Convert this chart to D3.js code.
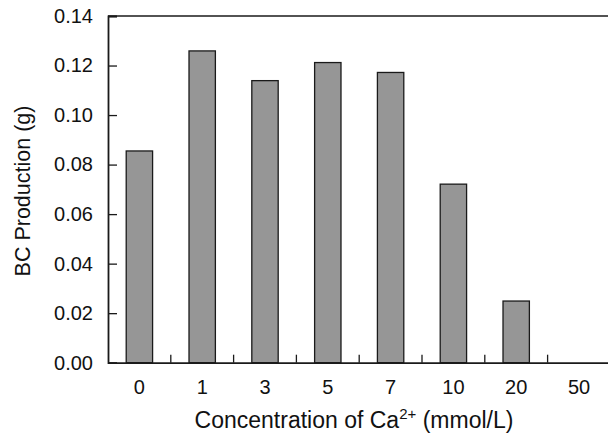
<!DOCTYPE html>
<html>
<head>
<meta charset="utf-8">
<script src="https://cdn.jsdelivr.net/npm/d3@7"></script>
<style>
  body { margin: 0; background: #fff; }
  svg { display: block; font-family: "Liberation Sans", Arial, sans-serif; }
</style>
</head>
<body>
<div id="chart"></div>
<script>
// Ca2+ concentration (mmol/L) and BC production (g)
var categories = ["0", "1", "3", "5", "7", "10", "20", "50"];
var production = [0.0855, 0.1259, 0.1139, 0.1212, 0.1172, 0.0721, 0.0249, 0];
var yTicks = [0, 0.02, 0.04, 0.06, 0.08, 0.10, 0.12, 0.14];

var width = 608, height = 434;
var plotLeft = 108, plotTop = 16, plotBottom = 362.7;
var step = 62.8;

var svg = d3.select("#chart").append("svg")
    .attr("width", width)
    .attr("height", height);

var x = d3.scaleBand()
    .domain(categories)
    .range([plotLeft, plotLeft + step * categories.length])
    .padding(0);

var y = d3.scaleLinear()
    .domain([0, 0.14])
    .range([plotBottom, plotTop]);

var barW = x.bandwidth() * 0.42;

// Bars
svg.append("g").selectAll("rect")
    .data(categories.map(function (c, i) { return { c: c, v: production[i] }; }))
    .enter().append("rect")
    .attr("x", function (d) { return x(d.c) + (x.bandwidth() - barW) / 2; })
    .attr("y", function (d) { return y(d.v); })
    .attr("width", barW)
    .attr("height", function (d) { return y(0) - y(d.v); })
    .attr("fill", "#969696")
    .attr("stroke", "#1a1a1a")
    .attr("stroke-width", 1.3)
    .style("display", function (d) { return d.v > 0 ? null : "none"; });

// Top frame line
svg.append("line")
    .attr("x1", plotLeft).attr("x2", width)
    .attr("y1", y(0.14)).attr("y2", y(0.14))
    .attr("stroke", "#1a1a1a").attr("stroke-width", 1.5);

// Y axis (ticks pointing inward)
var yAxis = svg.append("g")
    .attr("transform", "translate(" + plotLeft + ",0)")
    .call(d3.axisLeft(y).tickValues(yTicks).tickFormat(d3.format(".2f"))
        .tickSize(-9).tickPadding(15));
yAxis.select(".domain").attr("stroke", "#1a1a1a").attr("stroke-width", 1.8);
yAxis.selectAll(".tick line").attr("stroke", "#1a1a1a").attr("stroke-width", 1.3);
yAxis.selectAll("text").attr("font-size", 20).attr("fill", "#111")
    .style("font-family", "Liberation Sans, Arial, sans-serif");

// X axis: labels at category centres, tick marks between categories
var xAxis = svg.append("g")
    .attr("transform", "translate(0," + plotBottom + ")")
    .call(d3.axisBottom(x).tickSize(0).tickPadding(17));
xAxis.select(".domain").attr("stroke", "#1a1a1a").attr("stroke-width", 1.8);
xAxis.selectAll("text").attr("font-size", 20).attr("fill", "#111")
    .style("font-family", "Liberation Sans, Arial, sans-serif");

svg.append("g").selectAll("line")
    .data(categories.slice(0, -1))
    .enter().append("line")
    .attr("x1", function (c) { return x(c) + x.step(); })
    .attr("x2", function (c) { return x(c) + x.step(); })
    .attr("y1", plotBottom)
    .attr("y2", plotBottom - 8)
    .attr("stroke", "#1a1a1a")
    .attr("stroke-width", 1.3);

// Axis titles
svg.append("text")
    .attr("transform", "translate(30,191) rotate(-90)")
    .attr("text-anchor", "middle")
    .attr("font-size", 21.5)
    .attr("fill", "#111")
    .text("BC Production (g)");

var xt = svg.append("text")
    .attr("x", 354)
    .attr("y", 428)
    .attr("text-anchor", "middle")
    .attr("font-size", 23)
    .attr("fill", "#111");
xt.append("tspan").text("Concentration of Ca");
xt.append("tspan").attr("font-size", 15).attr("dy", -9).text("2+");
xt.append("tspan").attr("dy", 9).text(" (mmol/L)");
</script>
</body>
</html>
